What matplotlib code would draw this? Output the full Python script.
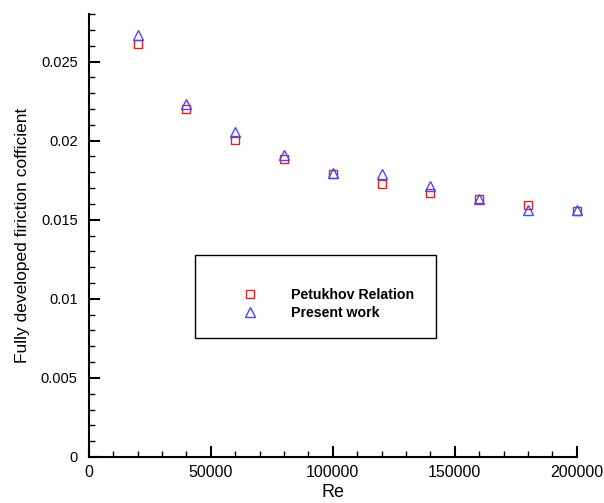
import numpy as np
import matplotlib
matplotlib.use("Agg")
from matplotlib import pyplot as plt
from matplotlib.patches import Rectangle
from matplotlib.ticker import MultipleLocator

plt.rcParams['font.family'] = ['Liberation Sans', 'DejaVu Sans']

Re = [20000, 40000, 60000, 80000, 100000, 120000, 140000, 160000, 180000, 200000]
f_petukhov = [0.02610, 0.02202, 0.02007, 0.01883, 0.01790, 0.01723, 0.01669, 0.01629, 0.01591, 0.01553]
f_present = [0.02668, 0.02229, 0.02053, 0.01908, 0.01795, 0.01790, 0.01713, 0.01629, 0.01560, 0.01562]

fig = plt.figure(figsize=(6.04, 5.03), dpi=100)
ax = fig.add_axes([0.147, 0.0915, 0.808, 0.8805])

ax.plot(Re, f_petukhov, 's', ms=6.3, mfc='none', mec='#e02020', mew=1.0,
        label='Petukhov Relation', clip_on=False)
ax.plot(Re, f_present, '^', ms=6.8, mfc='none', mec='#4848ff', mew=1.0,
        label='Present work', clip_on=False)

ax.set_xlim(0, 200000)
ax.set_ylim(0, 0.028)
ax.xaxis.set_major_locator(MultipleLocator(50000))
ax.xaxis.set_minor_locator(MultipleLocator(10000))
ax.yaxis.set_major_locator(MultipleLocator(0.005))
ax.yaxis.set_minor_locator(MultipleLocator(0.001))
ax.set_yticks([0, 0.005, 0.01, 0.015, 0.02, 0.025])
ax.set_yticklabels(['0', '0.005', '0.01', '0.015', '0.02', '0.025'])
ax.set_xticks([0, 50000, 100000, 150000, 200000])
ax.set_xticklabels(['0', '50000', '100000', '150000', '200000'])

for s in ['top', 'right']:
    ax.spines[s].set_visible(False)
for s in ['left', 'bottom']:
    ax.spines[s].set_linewidth(1.5)
ax.tick_params(which='major', direction='in', length=8, width=1.5, labelsize=10.5)
ax.tick_params(which='minor', direction='in', length=4, width=1.0)
ax.tick_params(axis='y', pad=8)
ax.tick_params(axis='x', pad=6, labelsize=11.5)

ax.set_xlabel('Re', fontsize=13, labelpad=3)
ax.set_ylabel('Fully developed firiction cofficient', fontsize=12.5, labelpad=8)

# legend frame drawn as its own box, entries inside without a frame
box = Rectangle((195 / 604, 1 - 338 / 503), (436 - 195) / 604, (338 - 255) / 503,
                transform=fig.transFigure, fill=False, ec='black', lw=1.0)
fig.patches.append(box)
leg = ax.legend(loc='center left', bbox_to_anchor=(223 / 604, 1 - 304 / 503),
                bbox_transform=fig.transFigure, frameon=False,
                handletextpad=1.9, labelspacing=0.3,
                prop={'weight': 'bold', 'size': 10.2})

fig.savefig('out.png', dpi=100)
